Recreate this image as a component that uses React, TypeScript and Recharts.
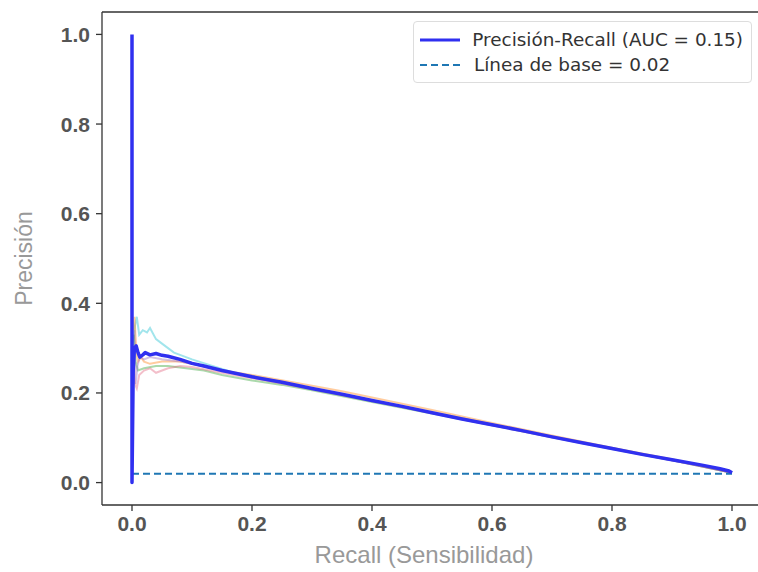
import React from "react";
import {
  LineChart,
  Line,
  XAxis,
  YAxis,
  Legend,
  ReferenceLine,
} from "recharts";

// curva media (azul)
const recallMean = [0, 0, 0.002, 0.004, 0.007, 0.01, 0.013, 0.018, 0.022, 0.03, 0.04, 0.05, 0.06, 0.08, 0.1, 0.12, 0.15, 0.2, 0.25, 0.3, 0.35, 0.4, 0.45, 0.5, 0.55, 0.6, 0.65, 0.7, 0.75, 0.8, 0.85, 0.9, 0.95, 0.98, 0.995, 1.0];
const precisionMean = [1.0, 0.0, 0.25, 0.3, 0.305, 0.29, 0.28, 0.285, 0.29, 0.285, 0.288, 0.284, 0.282, 0.275, 0.266, 0.26, 0.25, 0.236, 0.224, 0.21, 0.197, 0.183, 0.17, 0.156, 0.142, 0.129, 0.116, 0.102, 0.089, 0.076, 0.063, 0.051, 0.039, 0.031, 0.026, 0.022];

// folds (tenues)
const recallCyan = [0.002, 0.005, 0.008, 0.012, 0.018, 0.025, 0.03, 0.04, 0.05, 0.07, 0.1, 0.13, 0.17, 0.2, 0.3, 0.4, 0.5, 0.6, 0.7, 0.8, 0.9, 1.0];
const precisionCyan = [0.3, 0.35, 0.37, 0.33, 0.34, 0.335, 0.345, 0.32, 0.31, 0.29, 0.275, 0.262, 0.245, 0.238, 0.21, 0.184, 0.157, 0.13, 0.103, 0.077, 0.051, 0.022];

const recallOrange = [0.002, 0.004, 0.007, 0.01, 0.015, 0.02, 0.03, 0.05, 0.08, 0.1, 0.15, 0.2, 0.3, 0.35, 0.4, 0.5, 0.6, 0.7, 0.8, 0.9, 1.0];
const precisionOrange = [0.34, 0.37, 0.3, 0.27, 0.28, 0.27, 0.265, 0.27, 0.27, 0.265, 0.25, 0.24, 0.216, 0.204, 0.19, 0.162, 0.133, 0.105, 0.078, 0.052, 0.022];

const recallGreen = [0.003, 0.006, 0.01, 0.02, 0.04, 0.06, 0.09, 0.12, 0.15, 0.2, 0.25, 0.3, 0.4, 0.5, 0.6, 0.7, 0.8, 0.9, 1.0];
const precisionGreen = [0.33, 0.27, 0.25, 0.255, 0.26, 0.26, 0.255, 0.25, 0.24, 0.228, 0.218, 0.206, 0.18, 0.154, 0.128, 0.101, 0.075, 0.05, 0.022];

const recallPink = [0.002, 0.005, 0.008, 0.012, 0.02, 0.03, 0.04, 0.06, 0.08, 0.1, 0.15, 0.2, 0.3, 0.4, 0.5, 0.6, 0.7, 0.8, 0.9, 1.0];
const precisionPink = [0.28, 0.22, 0.21, 0.24, 0.25, 0.255, 0.245, 0.255, 0.26, 0.258, 0.245, 0.233, 0.208, 0.182, 0.155, 0.128, 0.101, 0.076, 0.05, 0.022];

const recallPurple = [0.002, 0.004, 0.006, 0.009, 0.013, 0.02, 0.03, 0.05, 0.08, 0.1, 0.15, 0.2, 0.3, 0.4, 0.5, 0.6, 0.7, 0.8, 0.9, 1.0];
const precisionPurple = [0.3, 0.34, 0.22, 0.26, 0.28, 0.275, 0.28, 0.275, 0.27, 0.265, 0.25, 0.235, 0.21, 0.183, 0.156, 0.129, 0.102, 0.076, 0.05, 0.022];

// línea de base
const recallBase = [0, 1];
const precisionBase = [0.02, 0.02];

const ticks = [0, 0.2, 0.4, 0.6, 0.8, 1.0];

const zip = (xs: number[], ys: number[]) => xs.map((x, i) => ({ x, y: ys[i] }));

const folds = [
  { name: "fold1", color: "#17becf", data: zip(recallCyan, precisionCyan) },
  { name: "fold2", color: "#ff7f0e", data: zip(recallOrange, precisionOrange) },
  { name: "fold3", color: "#2ca02c", data: zip(recallGreen, precisionGreen) },
  { name: "fold4", color: "#e0607a", data: zip(recallPink, precisionPink) },
  { name: "fold5", color: "#9467bd", data: zip(recallPurple, precisionPurple) },
];

const FONT = "'Liberation Sans', Arial, sans-serif";
const tickStyle = { fontFamily: FONT, fontSize: 21, fontWeight: 700, fill: "#555" };

const YLabel = (props: any) => {
  const vb = props.viewBox;
  const cx = 24;
  const cy = vb.y + vb.height / 2;
  return (
    <text x={cx} y={cy} transform={`rotate(-90 ${cx} ${cy})`} textAnchor="middle" dominantBaseline="central" fontFamily={FONT} fontSize={23} fill="#999">
      Precisión
    </text>
  );
};

const XLabel = (props: any) => {
  const vb = props.viewBox;
  return (
    <text x={vb.x + vb.width / 2 - 8} y={554} textAnchor="middle" dominantBaseline="central" fontFamily={FONT} fontSize={24} fill="#999">
      Recall (Sensibilidad)
    </text>
  );
};

const renderLegend = () => (
  <div
    style={{
      border: "1px solid #ddd",
      borderRadius: 4,
      background: "rgba(255,255,255,0.8)",
      padding: "5px 8px 5px 6px",
      fontFamily: "'DejaVu Sans', sans-serif",
      fontSize: 18.4,
      color: "#333",
      lineHeight: "25px",
      whiteSpace: "nowrap",
    }}
  >
    <div style={{ display: "flex", alignItems: "center" }}>
      <svg width={42} height={10} style={{ marginRight: 12 }}>
        <line x1={0} y1={5} x2={42} y2={5} stroke="#3030f0" strokeWidth={3} />
      </svg>
      Precisión-Recall (AUC = 0.15)
    </div>
    <div style={{ display: "flex", alignItems: "center" }}>
      <svg width={42} height={10} style={{ marginRight: 12 }}>
        <line x1={0} y1={5} x2={42} y2={5} stroke="#1f77b4" strokeWidth={2} strokeDasharray="7 4" />
      </svg>
      Línea de base = 0.02
    </div>
  </div>
);

export default function App() {
  return (
    <div style={{ position: "absolute", left: 0, top: 0, width: 758, height: 572, overflow: "hidden", background: "#fff" }}>
      <LineChart width={775} height={572} margin={{ top: 12, right: 13, bottom: 0, left: 0 }}>
        <XAxis
          type="number"
          dataKey="x"
          domain={[-0.05, 1.05]}
          ticks={ticks}
          tickFormatter={(v: number) => v.toFixed(1)}
          tick={tickStyle}
          height={67}
          stroke="#333"
          strokeWidth={1.3}
          tickSize={6}
          tickMargin={5}
          allowDataOverflow
          label={<XLabel />}
        />
        <YAxis
          type="number"
          dataKey="y"
          domain={[-0.05, 1.05]}
          ticks={ticks}
          tickFormatter={(v: number) => v.toFixed(1)}
          tick={tickStyle}
          width={102}
          stroke="#333"
          strokeWidth={1.3}
          tickSize={6}
          tickMargin={6}
          allowDataOverflow
          label={<YLabel />}
        />
        <ReferenceLine y={1.05} stroke="#333" strokeWidth={1.3} ifOverflow="visible" />
        {folds.map((f) => (
          <Line
            key={f.name}
            data={f.data}
            dataKey="y"
            type="linear"
            stroke={f.color}
            strokeOpacity={0.4}
            strokeWidth={2}
            dot={false}
            legendType="none"
            isAnimationActive={false}
          />
        ))}
        <Line
          data={zip(recallBase, precisionBase)}
          dataKey="y"
          name="Línea de base = 0.02"
          stroke="#1f77b4"
          strokeWidth={2}
          strokeDasharray="7 4"
          dot={false}
          isAnimationActive={false}
        />
        <Line
          data={zip(recallMean, precisionMean)}
          dataKey="y"
          name="Precisión-Recall (AUC = 0.15)"
          stroke="#3030f0"
          strokeWidth={3.5}
          strokeLinejoin="round"
          dot={false}
          isAnimationActive={false}
        />
        <Legend
          layout="vertical"
          align="center"
          verticalAlign="middle"
          content={renderLegend}
          wrapperStyle={{ left: 413, top: 21, width: 339 }}
        />
      </LineChart>
    </div>
  );
}
